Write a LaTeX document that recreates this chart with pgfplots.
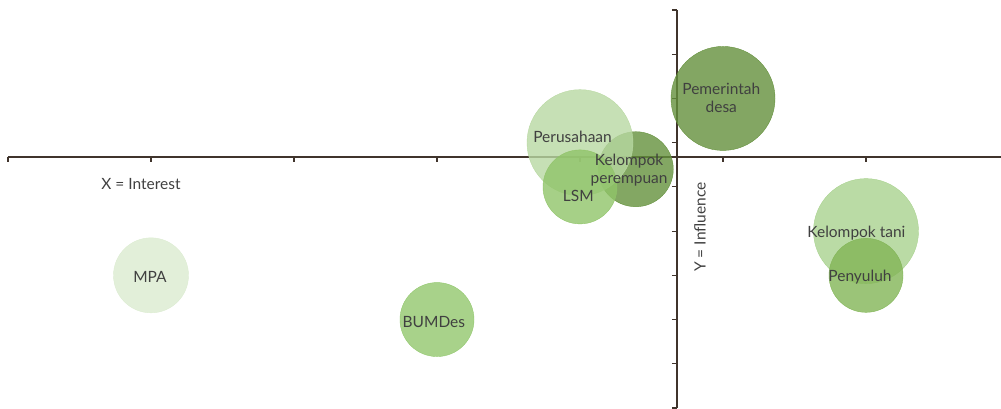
\documentclass[border=0pt]{standalone}
\usepackage{pgfplots}
\pgfplotsset{compat=1.18}
\usepackage{fontspec}
\setmainfont{Lato}

% one px of the reference = 1pt here
\definecolor{axisbrown}{RGB}{64,52,44}
\definecolor{labgray}{RGB}{64,64,64}
\definecolor{cPem}{RGB}{100,144,60}
\definecolor{cKP}{RGB}{100,145,60}
\definecolor{cPer}{RGB}{184,216,162}
\definecolor{cLSM}{RGB}{144,196,105}
\definecolor{cBUM}{RGB}{146,199,109}
\definecolor{cMPA}{RGB}{219,235,208}
\definecolor{cKT}{RGB}{169,210,143}
\definecolor{cPen}{RGB}{130,181,86}

\pgfplotsset{
  bub/.style 2 args={
    only marks, mark=*, mark size=#1, color=#2,
    mark options={draw=none, fill=#2, fill opacity=0.8},
  },
  lab/.style={
    draw=none, mark=none,
    nodes near coords={#1},
    nodes near coords style={anchor=center, align=center, text=labgray,
      font=\fontsize{15.5pt}{18pt}\selectfont, inner sep=0pt},
  },
}

\begin{document}
\begin{tikzpicture}
\begin{axis}[
  name=ax,
  scale only axis,
  width=993pt, height=398pt,
  xmin=-4.678, xmax=2.266,
  ymin=-5.676, ymax=3.324,
  enlargelimits=false,
  axis lines=middle,
  axis line style={-, draw=axisbrown, line width=1.3pt},
  tick align=outside,
  major tick length=5pt,
  tick style={draw=axisbrown, line width=1.1pt},
  xtick={-4.678,-3.678,-2.678,-1.678,-0.678,0.322,1.322},
  ytick={-5.676,-4.676,-3.676,-2.676,-1.676,-0.676,0.324,1.324,2.324,3.324},
  xticklabels={}, yticklabels={},
  xlabel={X = Interest},
  ylabel={Y = Influence},
  xlabel style={at={(axis cs:-3.748,-0.611)}, anchor=center, text=labgray,
    font=\fontsize{15.5pt}{18pt}\selectfont},
  ylabel style={at={(axis cs:0.161,-1.583)}, anchor=center, rotate=90, text=labgray,
    font=\fontsize{15.5pt}{18pt}\selectfont},
  clip=false,
]
% bubbles
\addplot[bub={37.5}{cMPA}] coordinates {(-3.678,-2.676)};
\addplot[bub={37}{cBUM}] coordinates {(-1.678,-3.676)};
\addplot[bub={37.5}{cKP}] coordinates {(-0.288,-0.276)};
\addplot[bub={53}{cPer}] coordinates {(-0.678,0.324)};
\addplot[bub={37}{cLSM}] coordinates {(-0.678,-0.676)};
\addplot[bub={52}{cPem}] coordinates {(0.322,1.324)};
\addplot[bub={52.5}{cKT}] coordinates {(1.322,-1.676)};
\addplot[bub={37}{cPen}] coordinates {(1.322,-2.676)};
% labels on top
\addplot[lab={MPA}] coordinates {(-3.685,-2.72)};
\addplot[lab={BUMDes}] coordinates {(-1.70,-3.74)};
\addplot[lab={Kelompok\\perempuan}] coordinates {(-0.335,-0.29)};
\addplot[lab={Perusahaan}] coordinates {(-0.73,0.45)};
\addplot[lab={LSM}] coordinates {(-0.69,-0.88)};
\addplot[lab={Pemerintah\\desa}] coordinates {(0.31,1.33)};
\addplot[lab={Kelompok tani}] coordinates {(1.255,-1.72)};
\addplot[lab={Penyuluh}] coordinates {(1.28,-2.71)};
\end{axis}
\pgfresetboundingbox
\path[use as bounding box] ([xshift=-8pt,yshift=-1pt]ax.south west) rectangle ([yshift=10pt]ax.north east);
\end{tikzpicture}
\end{document}
